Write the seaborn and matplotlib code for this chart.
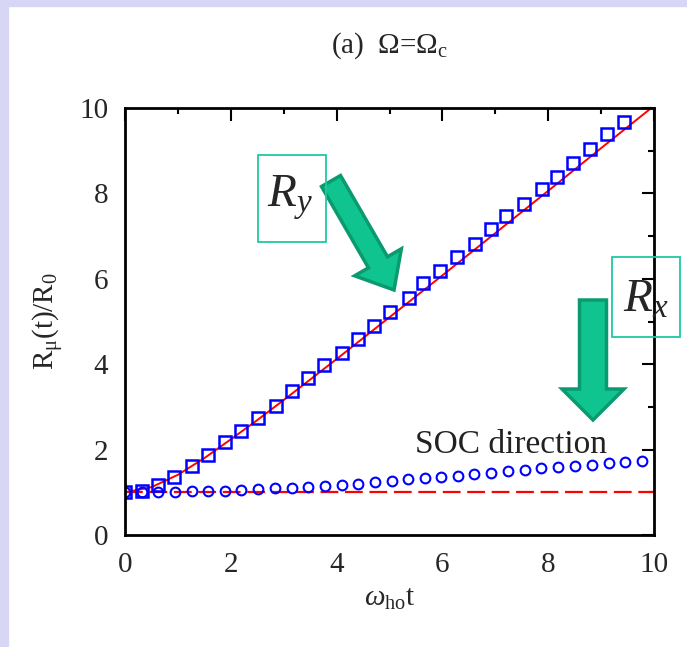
import matplotlib
matplotlib.use("Agg")
import matplotlib.pyplot as plt
import seaborn as sns
import pandas as pd
from matplotlib.patches import FancyArrow, Rectangle

# R_y (squares)
sq_x = [0.0, 0.32, 0.63, 0.93, 1.26, 1.57, 1.89, 2.19, 2.51, 2.85, 3.15, 3.45, 3.76, 4.10, 4.41, 4.71,
        5.01, 5.36, 5.64, 5.95, 6.28, 6.62, 6.92, 7.20, 7.54, 7.88, 8.16, 8.46, 8.79, 9.11, 9.43]
sq_y = [1.0, 1.03, 1.17, 1.36, 1.61, 1.88, 2.17, 2.44, 2.73, 3.02, 3.37, 3.67, 3.98, 4.27, 4.58, 4.90,
        5.23, 5.54, 5.89, 6.18, 6.50, 6.82, 7.17, 7.46, 7.76, 8.11, 8.39, 8.72, 9.04, 9.39, 9.68]

# R_x (circles)
ci_x = [0.0, 0.32, 0.63, 0.94, 1.26, 1.57, 1.89, 2.20, 2.52, 2.83, 3.15, 3.46, 3.78, 4.10, 4.41, 4.72,
        5.04, 5.35, 5.67, 5.98, 6.30, 6.60, 6.92, 7.24, 7.56, 7.87, 8.19, 8.50, 8.82, 9.14, 9.45, 9.77]
ci_y = [1.0, 1.0, 1.0, 1.01, 1.02, 1.03, 1.04, 1.05, 1.07, 1.09, 1.10, 1.12, 1.15, 1.17, 1.20, 1.23,
        1.27, 1.30, 1.33, 1.36, 1.39, 1.43, 1.46, 1.49, 1.53, 1.56, 1.59, 1.62, 1.65, 1.68, 1.71, 1.73]

# red solid curve (y direction) and red dashed line (x direction)
ry_x = [0, 0.5, 1, 1.5, 2, 2.5, 3, 4, 5, 6, 7, 8, 9, 10]
ry_y = [1.0, 1.12, 1.41, 1.80, 2.24, 2.69, 3.16, 4.12, 5.10, 6.08, 7.07, 8.06, 9.06, 10.05]
rx_x = [0, 10]
rx_y = [1, 1]

ticks = [0, 2, 4, 6, 8, 10]

sns.set_style("white")
plt.rcParams['font.family'] = ['Liberation Serif', 'DejaVu Serif']
plt.rcParams['mathtext.fontset'] = 'custom'
plt.rcParams['mathtext.rm'] = 'Liberation Serif'
plt.rcParams['mathtext.it'] = 'Liberation Serif:italic'

W, H = 687, 647
fig = plt.figure(figsize=(W / 100, H / 100), dpi=100, facecolor='white')
ax = fig.add_axes([125 / W, 1 - 535 / H, (654 - 125) / W, (535 - 108) / H])

# lavender frame strips
band = '#d7d7f5'
fig.patches.append(Rectangle((0, 0), 8 / W, 1, transform=fig.transFigure, color=band, zorder=0))
fig.patches.append(Rectangle((0, 1 - 6 / H), 1, 6 / H, transform=fig.transFigure, color=band, zorder=0))

sns.lineplot(x=ry_x, y=ry_y, ax=ax, color='red', lw=1.4, estimator=None, sort=False)
sns.lineplot(x=rx_x, y=rx_y, ax=ax, color='red', lw=1.6, estimator=None, sort=False, dashes=False)
ax.lines[-1].set_dashes((8, 3))
sns.lineplot(x=ci_x, y=ci_y, ax=ax, estimator=None, sort=False, ls='', marker='o', ms=7,
             mfc='none', mec='blue', mew=1.5)
sns.lineplot(x=sq_x, y=sq_y, ax=ax, estimator=None, sort=False, ls='', marker='s', ms=8,
             mfc='none', mec='blue', mew=1.8)

ax.set_xlim(0, 10)
ax.set_ylim(0, 10)
ax.set_xticks(ticks)
ax.set_yticks(ticks)
ax.set_xticks([1, 3, 5, 7, 9], minor=True)
ax.set_yticks([1, 3, 5, 7, 9], minor=True)
ax.tick_params(which='both', direction='in', top=True, right=True, width=1.5, color='black')
ax.tick_params(which='major', length=9, labelsize=21, pad=12)
ax.tick_params(which='minor', length=4.5)
for s in ax.spines.values():
    s.set_linewidth(2)
    s.set_color('black')

ax.set_xlabel(r'$\omega_{\mathrm{ho}}\mathrm{t}$', fontsize=21, labelpad=6)
ax.set_ylabel(r'$\mathrm{R_{\mu}(t)/R_0}$', fontsize=21)
ax.yaxis.set_label_coords(-0.112, 0.5)
ax.set_title(r'(a)  $\Omega$=$\Omega_{\mathrm{c}}$', fontsize=21, pad=40)

ax.text(7.3, 2.12, 'SOC direction', fontsize=24, ha='center', va='center', color='#222222')


def px(x, y):
    return (x / 100, (H - y) / 100)


face = '#10c490'
edge = '#0a9a70'
t = fig.dpi_scale_trans
x0, y0 = px(331, 181)
x1, y1 = px(394, 290)
fig.patches.append(FancyArrow(x0, y0, x1 - x0, y1 - y0, width=0.22, head_width=0.54, head_length=0.32,
                              length_includes_head=True, transform=t, fc=face, ec=edge, lw=2.5, zorder=5))
x0, y0 = px(593, 300)
x1, y1 = px(593, 420)
fig.patches.append(FancyArrow(x0, y0, x1 - x0, y1 - y0, width=0.27, head_width=0.62, head_length=0.31,
                              length_includes_head=True, transform=t, fc=face, ec=edge, lw=2.5, zorder=5))

box = '#20c8a0'
for (bx, by, bw, bh) in [(258, 155, 68, 87), (612, 257, 68, 80)]:
    fig.patches.append(Rectangle(px(bx, by + bh), bw / 100, bh / 100, transform=t, fill=False,
                                 ec=box, lw=1.3, zorder=6))

fig.text(*px(290, 198), r'$R_y$', transform=t, fontsize=34, ha='center', va='center')
fig.text(*px(646, 300), r'$R_x$', transform=t, fontsize=34, ha='center', va='center')

fig.savefig('out.png', dpi=100, facecolor='white')
